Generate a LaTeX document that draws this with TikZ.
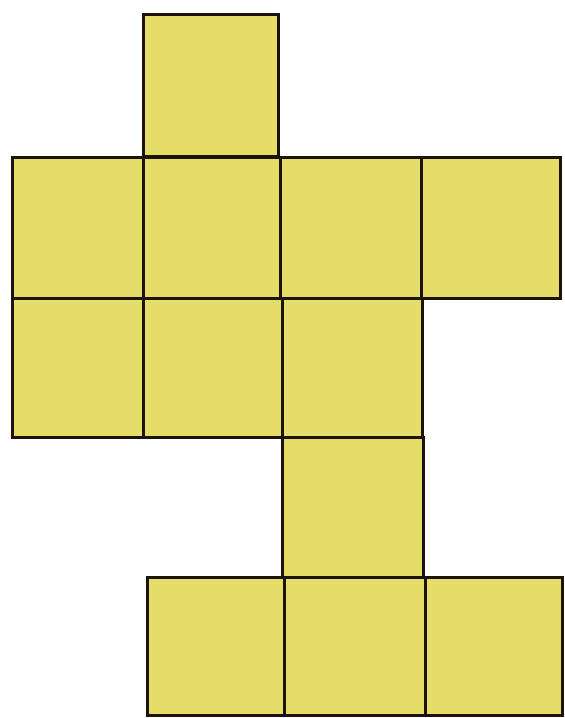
\documentclass[tikz,border=0pt]{standalone}
\usepackage{tikz}
\definecolor{netyellow}{RGB}{228,222,104}
\begin{document}
\begin{tikzpicture}
[x=1pt,y=-1pt,every path/.style={line join=miter},
 cell/.style={draw=black!85!brown,fill=netyellow,line width=3pt}]
\useasboundingbox (0,0) rectangle (565,718);
% top square
\draw[cell] (143,14) rectangle (278,156);
% row of four
\foreach \xa/\xb in {12/143,143/280,280/421,421/560}
  \draw[cell] (\xa,157) rectangle (\xb,298);
% row of three
\foreach \xa/\xb in {12/143,143/282,282/422}
  \draw[cell] (\xa,298) rectangle (\xb,437);
% single square
\draw[cell] (282,437) rectangle (423,577);
% bottom row
\foreach \xa/\xb in {147/284,284/425,425/562}
  \draw[cell] (\xa,577) rectangle (\xb,715);
\end{tikzpicture}
\end{document}
